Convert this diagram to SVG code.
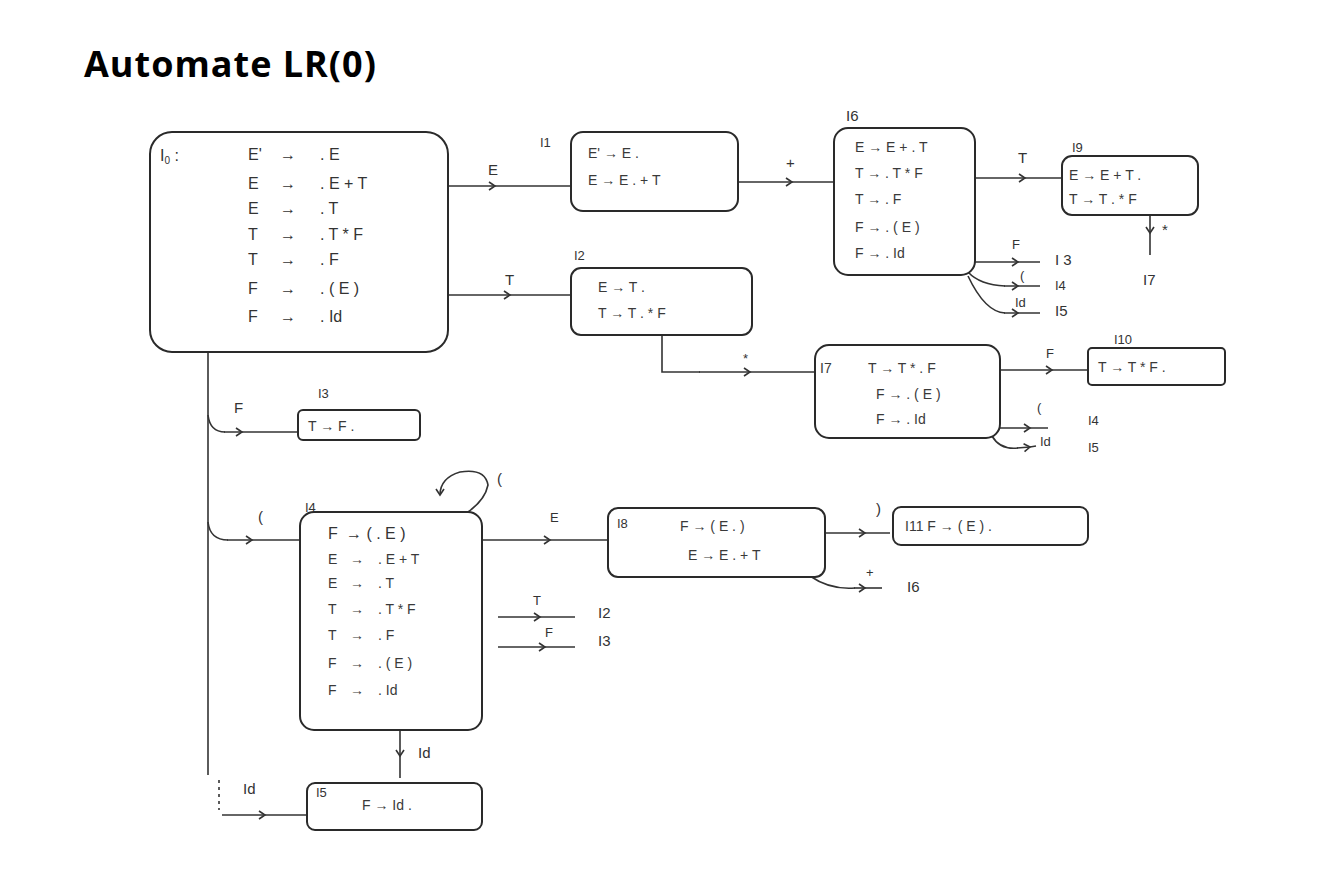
<svg xmlns="http://www.w3.org/2000/svg" width="1322" height="881" viewBox="0 0 1322 881">
<defs>
<marker id="ah" viewBox="0 0 10 10" refX="7" refY="5" markerWidth="10" markerHeight="10" markerUnits="userSpaceOnUse" orient="auto">
<path d="M1,1 L7,5 L1,9" fill="none" stroke="#333" stroke-width="1.6"/>
</marker>
</defs>
<style>
.box{fill:#fff;stroke:#2a2a2a;stroke-width:2}
.t{font-family:"Liberation Sans",Arial,sans-serif;font-size:14px;fill:#3a3a3a}
.t0{font-family:"Liberation Sans",Arial,sans-serif;font-size:16px;fill:#333}
.lb{font-family:"Liberation Sans",Arial,sans-serif;font-size:13px;fill:#333}
.el{font-family:"Liberation Sans",Arial,sans-serif;font-size:15px;fill:#333}
.c{fill:none;stroke:#333;stroke-width:1.6;marker-mid:url(#ah)}
.cn{fill:none;stroke:#333;stroke-width:1.6}
.title{font-family:"Open Sans","Liberation Sans",Arial,sans-serif;font-size:36px;font-weight:bold;fill:#000;letter-spacing:1px}
</style>
<rect width="1322" height="881" fill="#fff"/>
<text class="title" x="84" y="77">Automate LR(0)</text>

<g id="connectors">
<path class="c" d="M448,186 L495,186 L571,186"/>
<text class="el" x="488" y="175">E</text>
<path class="c" d="M738,182 L792,182 L834,182"/>
<text class="el" x="786" y="168">+</text>
<path class="c" d="M975,178 L1025,178 L1062,178"/>
<text class="el" x="1018" y="163">T</text>
<path class="c" d="M1150,215 L1150,233 L1150,255"/>
<text class="el" x="1162" y="235">*</text>
<text class="el" x="1143" y="285">I7</text>
<path class="c" d="M975,262 L1018,262 L1040,262"/>
<text class="lb" x="1012" y="249">F</text>
<text class="el" x="1055" y="265">I 3</text>
<path class="cn" d="M968,272 Q980,285 1005,286"/>
<path class="c" d="M1004,286 L1018,286 L1040,286"/>
<text class="lb" x="1020" y="280">(</text>
<text class="lb" x="1055" y="290">I4</text>
<path class="cn" d="M968,276 Q985,312 1005,313"/>
<path class="c" d="M1004,313 L1018,313 L1040,313"/>
<text class="lb" x="1015" y="307">Id</text>
<text class="el" x="1055" y="316">I5</text>
<path class="c" d="M448,295 L510,295 L571,295"/>
<text class="el" x="505" y="285">T</text>
<path class="cn" d="M662,335 L662,372 L700,372"/>
<path class="c" d="M699,372 L750,372 L815,372"/>
<text class="lb" x="743" y="363">*</text>
<path class="c" d="M1000,370 L1052,370 L1088,370"/>
<text class="lb" x="1046" y="358">F</text>
<path class="c" d="M1000,428 L1030,428 L1048,428"/>
<text class="lb" x="1037" y="412">(</text>
<text class="lb" x="1088" y="425">I4</text>
<path class="cn" d="M992,436 Q1000,450 1018,448"/>
<path class="c" d="M1017,448 L1030,447 L1036,446"/>
<text class="lb" x="1040" y="446">Id</text>
<text class="lb" x="1088" y="452">I5</text>
<path class="cn" d="M208,352 L208,775"/>
<path class="cn" d="M219,780 L219,810" stroke-dasharray="3,4"/>
<path class="cn" d="M208,415 Q210,432 225,432"/>
<path class="c" d="M224,432 L242,432 L298,432"/>
<text class="el" x="234" y="413">F</text>
<path class="cn" d="M208,522 Q210,540 228,540"/>
<path class="c" d="M227,540 L252,540 L305,540"/>
<text class="el" x="258" y="522">(</text>
<path class="c" d="M222,815 L265,815 L307,815"/>
<text class="el" x="243" y="794">Id</text>
<path class="cn" d="M468,512 Q485,500 488,485 Q485,468 460,472 Q440,478 440,495" marker-end="url(#ah)"/>
<text class="el" x="497" y="484">(</text>
<path class="c" d="M482,540 L550,540 L608,540"/>
<text class="lb" x="550" y="522">E</text>
<path class="c" d="M825,533 L865,533 L890,533"/>
<text class="el" x="876" y="514">)</text>
<path class="cn" d="M810,576 Q830,590 855,588"/>
<path class="c" d="M854,588 L865,588 L882,588"/>
<text class="lb" x="866" y="577">+</text>
<text class="el" x="907" y="592">I6</text>
<path class="c" d="M498,617 L540,617 L575,617"/>
<text class="lb" x="533" y="605">T</text>
<text class="el" x="598" y="618">I2</text>
<path class="c" d="M498,647 L545,647 L575,647"/>
<text class="lb" x="545" y="637">F</text>
<text class="el" x="598" y="646">I3</text>
<path class="c" d="M400,730 L400,756 L400,778"/>
<text class="el" x="418" y="758">Id</text>
</g>

<g id="I0">
<rect class="box" x="150" y="132" width="298" height="220" rx="22"/>
<text class="t0" x="160" y="161">I<tspan font-size="10" dy="3">0</tspan><tspan dy="-3"> :</tspan></text>
<text class="t0" y="160"><tspan x="248">E'</tspan><tspan x="280">→</tspan><tspan x="320">. E</tspan></text>
<text class="t0" y="189"><tspan x="248">E</tspan><tspan x="280">→</tspan><tspan x="320">. E + T</tspan></text>
<text class="t0" y="214"><tspan x="248">E</tspan><tspan x="280">→</tspan><tspan x="320">. T</tspan></text>
<text class="t0" y="240"><tspan x="248">T</tspan><tspan x="280">→</tspan><tspan x="320">. T * F</tspan></text>
<text class="t0" y="265"><tspan x="248">T</tspan><tspan x="280">→</tspan><tspan x="320">. F</tspan></text>
<text class="t0" y="294"><tspan x="248">F</tspan><tspan x="280">→</tspan><tspan x="320">. ( E )</tspan></text>
<text class="t0" y="322"><tspan x="248">F</tspan><tspan x="280">→</tspan><tspan x="320">. Id</tspan></text>
</g>

<g id="I1">
<text class="lb" x="540" y="147">I1</text>
<rect class="box" x="571" y="132" width="167" height="79" rx="12"/>
<text class="t" x="588" y="158">E' → E .</text>
<text class="t" x="588" y="185">E → E . + T</text>
</g>

<g id="I6">
<text class="el" x="846" y="121">I6</text>
<rect class="box" x="834" y="128" width="141" height="147" rx="14"/>
<text class="t" x="855" y="152">E → E + . T</text>
<text class="t" x="855" y="178">T → . T * F</text>
<text class="t" x="855" y="204">T → . F</text>
<text class="t" x="855" y="232">F → . ( E )</text>
<text class="t" x="855" y="258">F → . Id</text>
</g>

<g id="I9">
<text class="lb" x="1072" y="152">I9</text>
<rect class="box" x="1062" y="156" width="136" height="59" rx="10"/>
<text class="t" x="1069" y="180">E → E + T .</text>
<text class="t" x="1069" y="204">T → T . * F</text>
</g>

<g id="I2">
<text class="lb" x="574" y="260">I2</text>
<rect class="box" x="571" y="268" width="181" height="67" rx="10"/>
<text class="t" x="598" y="292">E → T .</text>
<text class="t" x="598" y="318">T → T . * F</text>
</g>

<g id="I7">
<rect class="box" x="815" y="345" width="185" height="93" rx="14"/>
<text class="t" x="820" y="373">I7</text>
<text class="t" x="868" y="373">T → T * . F</text>
<text class="t" x="876" y="399">F → . ( E )</text>
<text class="t" x="876" y="424">F → . Id</text>
</g>

<g id="I10">
<text class="lb" x="1114" y="344" font-size="10">I10</text>
<rect class="box" x="1088" y="348" width="137" height="37" rx="4"/>
<text class="t" x="1098" y="372">T → T * F .</text>
</g>

<g id="I3">
<text class="lb" x="318" y="398">I3</text>
<rect class="box" x="298" y="410" width="122" height="30" rx="5"/>
<text class="t" x="308" y="431">T → F .</text>
</g>

<g id="I4">
<text class="lb" x="305" y="512">I4</text>
<rect class="box" x="300" y="512" width="182" height="218" rx="14"/>
<text class="t0" y="539"><tspan x="328">F</tspan><tspan x="346">→ ( . E )</tspan></text>
<text class="t" y="564"><tspan x="328">E</tspan><tspan x="350">→</tspan><tspan x="378">. E + T</tspan></text>
<text class="t" y="588"><tspan x="328">E</tspan><tspan x="350">→</tspan><tspan x="378">. T</tspan></text>
<text class="t" y="614"><tspan x="328">T</tspan><tspan x="350">→</tspan><tspan x="378">. T * F</tspan></text>
<text class="t" y="640"><tspan x="328">T</tspan><tspan x="350">→</tspan><tspan x="378">. F</tspan></text>
<text class="t" y="668"><tspan x="328">F</tspan><tspan x="350">→</tspan><tspan x="378">. ( E )</tspan></text>
<text class="t" y="695"><tspan x="328">F</tspan><tspan x="350">→</tspan><tspan x="378">. Id</tspan></text>
</g>

<g id="I8">
<rect class="box" x="608" y="508" width="217" height="69" rx="10"/>
<text class="lb" x="617" y="528">I8</text>
<text class="t" x="680" y="531">F → ( E . )</text>
<text class="t" x="688" y="560">E → E . + T</text>
</g>

<g id="I11">
<rect class="box" x="893" y="507" width="195" height="38" rx="8"/>
<text class="t" x="905" y="531">I11   F → ( E ) .</text>
</g>

<g id="I5">
<rect class="box" x="307" y="783" width="175" height="47" rx="8"/>
<text class="lb" x="316" y="797" font-size="11">I5</text>
<text class="t" x="362" y="810">F → Id .</text>
</g>
</svg>
